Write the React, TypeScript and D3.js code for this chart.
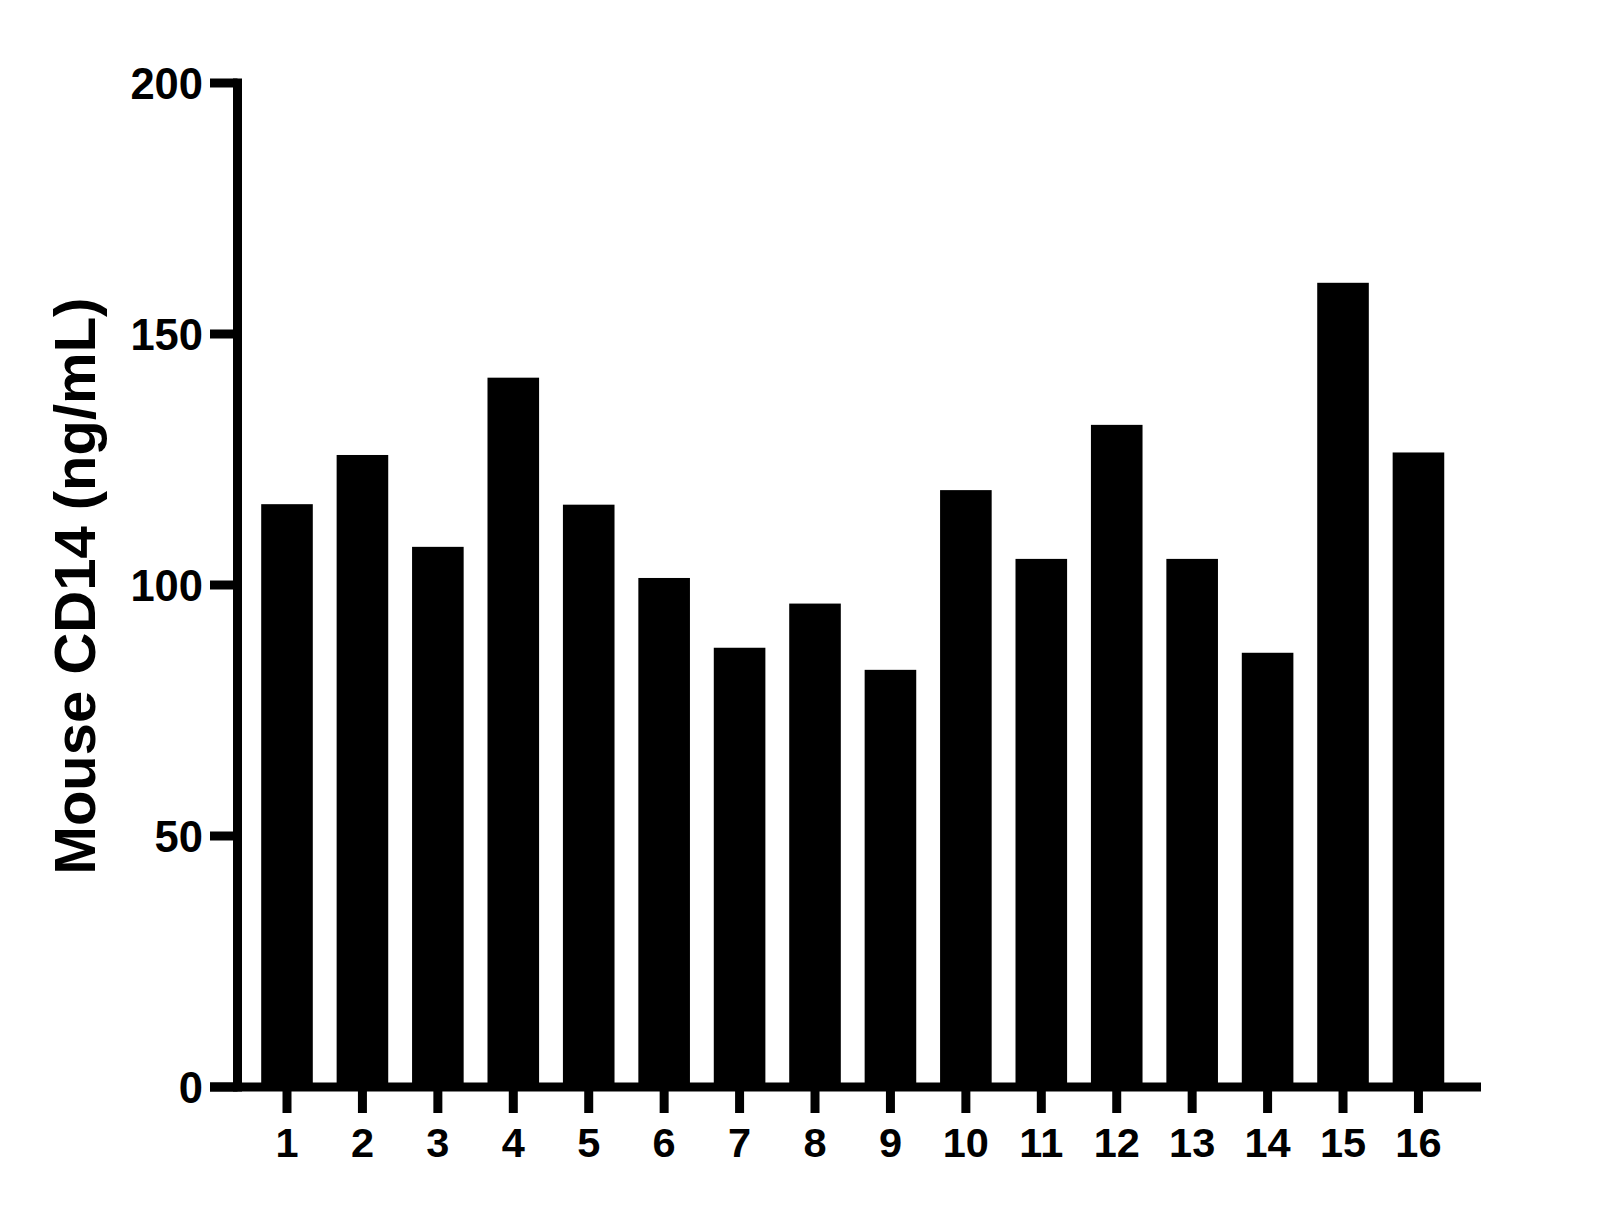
import React from "react";
import * as d3 from "d3";

const categories = ["1","2","3","4","5","6","7","8","9","10","11","12","13","14","15","16"];
const values = [116.1, 125.9, 107.6, 141.3, 116.0, 101.4, 87.5, 96.3, 83.1, 118.9, 105.2, 131.9, 105.2, 86.5, 160.2, 126.4];
const yTicks = [0, 50, 100, 150, 200];
const yTitle = "Mouse CD14 (ng/mL)";

const W = 1615;
const H = 1208;
const FONT = "'Liberation Sans', Arial, Helvetica, sans-serif";

export default function App() {
  const y = d3.scaleLinear().domain([0, 200]).range([1087, 83]);
  const step = 75.43;
  const x0 = 287 - step / 2;
  const x = d3
    .scaleBand<string>()
    .domain(categories)
    .range([x0, x0 + step * categories.length])
    .paddingInner(0.316)
    .paddingOuter(0.158);

  const axisX = 237.5;
  const sw = 9;

  return (
    <svg
      width={W}
      height={H}
      style={{ position: "absolute", left: 0, top: 0, background: "#fff" }}
      fontFamily={FONT}
    >
      <rect x={0} y={0} width={W} height={H} fill="#fff" />
      {categories.map((c, i) => (
        <rect
          key={c}
          x={x(c)}
          y={y(values[i])}
          width={x.bandwidth()}
          height={y(0) - y(values[i])}
          fill="#000"
        />
      ))}
      {/* y axis */}
      <line x1={axisX} x2={axisX} y1={y(200) - sw / 2} y2={y(0) + sw / 2} stroke="#000" strokeWidth={sw} />
      {yTicks.map((t) => (
        <g key={t}>
          <line x1={210} x2={axisX} y1={y(t)} y2={y(t)} stroke="#000" strokeWidth={sw} />
          <text
            x={203}
            y={y(t) + 15.5}
            textAnchor="end"
            fontSize={43.5}
            fontWeight="bold"
            fill="#000"
          >
            {t}
          </text>
        </g>
      ))}
      {/* x axis */}
      <line x1={210} x2={1481} y1={y(0)} y2={y(0)} stroke="#000" strokeWidth={sw} />
      {categories.map((c) => {
        const cx = (x(c) as number) + x.bandwidth() / 2;
        return (
          <g key={c}>
            <line x1={cx} x2={cx} y1={y(0)} y2={1113} stroke="#000" strokeWidth={sw} />
            <text x={cx} y={1157} textAnchor="middle" fontSize={41.5} fontWeight="bold" fill="#000">
              {c}
            </text>
          </g>
        );
      })}
      <text
        transform={`translate(95, 586) rotate(-90)`}
        textAnchor="middle"
        fontSize={58}
        fontWeight="bold"
        fill="#000"
      >
        {yTitle}
      </text>
    </svg>
  );
}
